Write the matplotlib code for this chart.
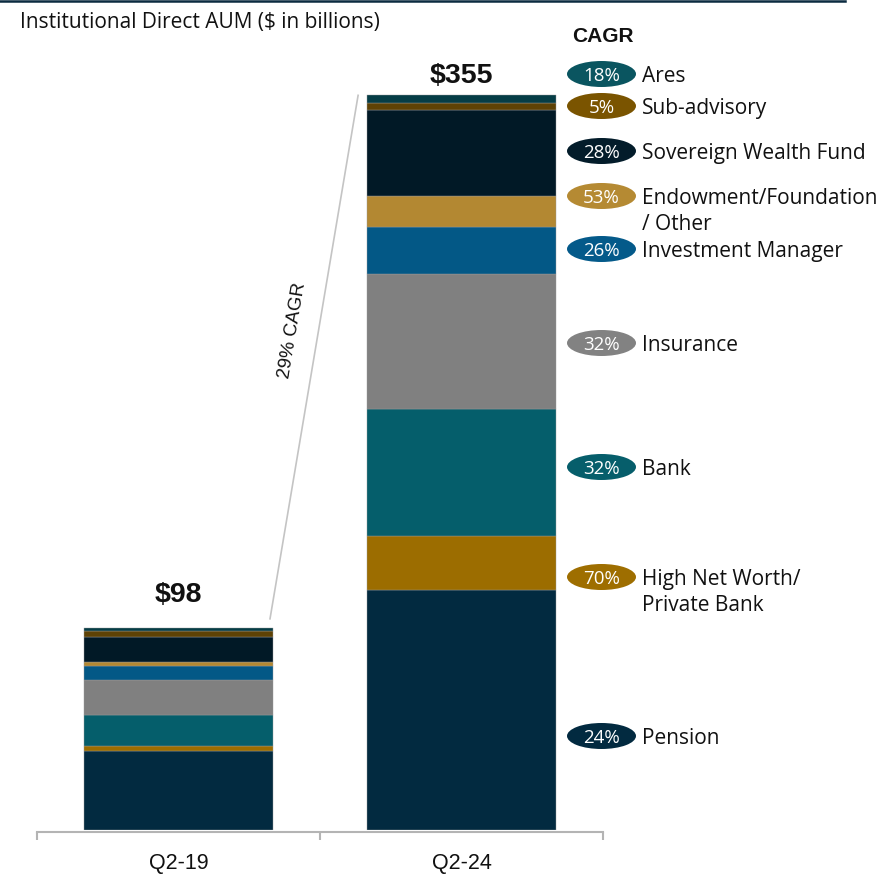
import matplotlib
matplotlib.use("Agg")
import matplotlib.pyplot as plt
from matplotlib.patches import Ellipse
from matplotlib.lines import Line2D
import matplotlib.transforms as mtransforms

# ---------------- data ----------------
periods = ["Q2-19", "Q2-24"]
totals = [98, 355]
segments = ["Pension", "High Net Worth/\nPrivate Bank", "Bank", "Insurance",
            "Investment Manager", "Endowment/Foundation\n/ Other",
            "Sovereign Wealth Fund", "Sub-advisory", "Ares"]
q2_19 = [38.3, 2.1, 15.2, 16.6, 6.9, 1.9, 12.2, 2.6, 1.7]
q2_24 = [115.8, 25.9, 61.4, 65.1, 22.8, 14.8, 41.8, 3.4, 3.9]
cagr = ["24%", "70%", "32%", "32%", "26%", "53%", "28%", "5%", "18%"]
total_cagr = "29% CAGR"
title = "Institutional Direct AUM ($ in billions)"

# ---------------- style ----------------
bar_colors = ["#022A40", "#9C6D00", "#055E6B", "#808080", "#035886",
              "#B38832", "#011926", "#5E4205", "#053D46"]
pill_colors = ["#022A40", "#9E6E00", "#065E6B", "#828282", "#045A8A",
               "#B58A33", "#031C2A", "#7A5400", "#0A5560"]
# legend row centres (pixels from top of figure)
legend_rows_px = [736, 577, 467, 343, 249, 196, 151, 106, 74]

W, H, DPI = 884, 880, 100
fig = plt.figure(figsize=(W / DPI, H / DPI), dpi=DPI)
fig.patch.set_facecolor("white")

base_px = 830
px_per_unit = (830 - 94.3) / 355
ax_left_px, ax_right_px = 37, 603
ax = fig.add_axes([ax_left_px / W, (H - base_px) / H,
                   (ax_right_px - ax_left_px) / W, base_px / H])
ymax = base_px / px_per_unit
ax.set_xlim(-0.5, 1.5)
ax.set_ylim(0, ymax)
unit_x_px = (ax_right_px - ax_left_px) / 2.0

def py2d(p):  # pixel-from-top -> data y
    return (base_px - p) / px_per_unit

def px2d(p):  # pixel-from-left -> data x
    return -0.5 + (p - ax_left_px) / unit_x_px

bar_w = 188.4 / unit_x_px
series = [q2_19, q2_24]
for i, vals in enumerate(series):
    bottom = 0
    for v, c in zip(vals, bar_colors):
        ax.bar(i, v, bottom=bottom, width=bar_w, color=c,
               edgecolor="#9a9a9a", linewidth=0.3, zorder=2)
        bottom += v

# total labels
total_offsets_px = [26, 12]
for i, (t, off) in enumerate(zip(totals, total_offsets_px)):
    tr = mtransforms.offset_copy(ax.transData, fig=fig, x=0, y=off, units="dots")
    ax.text(i, sum(series[i]), f"${t}", transform=tr, ha="center", va="baseline",
            fontsize=20.5, fontweight="bold", family="Liberation Sans", color="#111111")

# connector line
x0 = 0 + bar_w / 2 - 0.01
x1 = 1 - bar_w / 2 - 0.032
ax.plot([x0, x1], [sum(q2_19) + 4, sum(q2_24)], color="#c4c4c4", lw=1.2,
        zorder=1, solid_capstyle="butt")
ax.text(px2d(293), py2d(330), total_cagr, rotation=80.5, rotation_mode="anchor",
        ha="center", va="center", fontsize=13.5, family="Liberation Sans",
        color="#111111")

# axis styling
for s in ["top", "right", "left"]:
    ax.spines[s].set_visible(False)
ax.spines["bottom"].set_position(("outward", 1.5))
ax.spines["bottom"].set_color("#b4b4b4")
ax.spines["bottom"].set_linewidth(1.5)
ax.set_yticks([])
ax.set_xticks([-0.5, 0.5, 1.5])
ax.set_xticklabels([])
ax.tick_params(axis="x", which="major", length=6, width=1.5, color="#b4b4b4",
               direction="out")
ax.set_xticks([0, 1], minor=True)
ax.set_xticklabels(periods, minor=True, fontsize=15.5, family="Liberation Sans",
                   color="#111111")
ax.tick_params(axis="x", which="minor", length=0, pad=15)

# CAGR legend pills
pill_w = 69 / unit_x_px
pill_h = 26 / px_per_unit
pill_x = px2d(601.5)
text_x = px2d(642)
line_gap = 26 / px_per_unit
for lab, pct, col, rowpx in zip(segments, cagr, pill_colors, legend_rows_px):
    yc = py2d(rowpx)
    e = Ellipse((pill_x, yc), pill_w, pill_h, facecolor=col, edgecolor="none",
                clip_on=False, zorder=3)
    ax.add_patch(e)
    ax.text(pill_x, yc, pct, ha="center", va="center_baseline", color="white",
            fontsize=13.5, family="Open Sans", clip_on=False, zorder=4)
    for k, line in enumerate(lab.split("\n")):
        ax.text(text_x, yc - k * line_gap, line, ha="left", va="center_baseline",
                fontsize=15, family="Open Sans", color="#111111", clip_on=False)

# titles
fig.text(20 / W, 1 - 20 / H, title, ha="left", va="center_baseline", fontsize=15,
         family="Open Sans", color="#111111")
fig.text(603 / W, 1 - 36 / H, "CAGR", ha="center", va="center", fontsize=15,
         fontweight="bold", family="Liberation Sans", color="#111111")
fig.add_artist(Line2D([0, 845 / W], [1 - 1 / H, 1 - 1 / H], color="#0b2b40", lw=1.8))

fig.savefig("out.png", dpi=DPI, facecolor="white")
